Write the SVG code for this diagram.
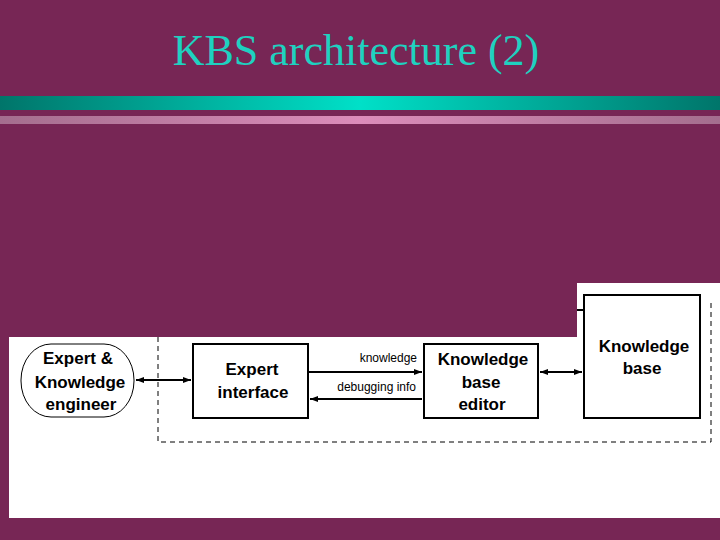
<svg xmlns="http://www.w3.org/2000/svg" width="720" height="540" viewBox="0 0 720 540">
<defs>
<linearGradient id="teal" x1="0" x2="1"><stop offset="0" stop-color="#00756a"/><stop offset="0.5" stop-color="#00e0c8"/><stop offset="1" stop-color="#00756a"/></linearGradient>
<linearGradient id="pink" x1="0" x2="1"><stop offset="0" stop-color="#a46e8e"/><stop offset="0.5" stop-color="#dc8cba"/><stop offset="1" stop-color="#a46e8e"/></linearGradient>
<marker id="ah" markerWidth="8" markerHeight="6" refX="8" refY="3" orient="auto-start-reverse" markerUnits="userSpaceOnUse"><path d="M0,0 L8,3 L0,6 Z" fill="#000"/></marker>
</defs>
<style>
.box{fill:#fff;stroke:#000;stroke-width:2}
.t{font-family:"Liberation Sans",Arial,sans-serif;font-size:17px;font-weight:bold;text-anchor:middle;fill:#000}
.s{font-family:"Liberation Sans",Arial,sans-serif;font-size:12px;text-anchor:end;fill:#000}
.c{stroke:#000;stroke-width:2;fill:none}
</style>
<rect width="720" height="540" fill="#772655"/>
<text x="356" y="65" font-family="Liberation Serif,Times New Roman,serif" font-size="44" fill="#1fd1c0" text-anchor="middle">KBS architecture (2)</text>
<rect x="0" y="96" width="720" height="14" fill="url(#teal)"/>
<rect x="0" y="116" width="720" height="8" fill="url(#pink)"/>
<rect x="9" y="337" width="711" height="181" fill="#fff"/>
<rect x="577" y="283" width="143" height="55" fill="#fff"/>
<path d="M158,337 V442 H711 V300" fill="none" stroke="#000" stroke-width="1" stroke-dasharray="5,4"/>
<g id="expert"><rect x="21" y="344" width="113" height="73" rx="30" ry="36" fill="#fff" stroke="#000" stroke-width="1"/>
<text class="t" x="78" y="364">Expert &amp;</text><text class="t" x="80" y="388">Knowledge</text><text class="t" x="81" y="410">engineer</text></g>
<g id="interface"><rect class="box" x="193" y="344" width="115" height="74"/>
<text class="t" x="252" y="375">Expert</text><text class="t" x="253" y="398">interface</text></g>
<g id="editor"><rect class="box" x="424" y="344" width="114" height="74"/>
<text class="t" x="483" y="365">Knowledge</text><text class="t" x="481" y="388">base</text><text class="t" x="482" y="410">editor</text></g>
<g id="kb"><rect class="box" x="584" y="295" width="116" height="123"/>
<text class="t" x="644" y="352">Knowledge</text><text class="t" x="642" y="374">base</text></g>
<g id="connectors">
<line class="c" x1="136" y1="380" x2="191" y2="380" marker-start="url(#ah)" marker-end="url(#ah)"/>
<line class="c" x1="308" y1="372" x2="422" y2="372" stroke-width="1" marker-end="url(#ah)"/>
<line class="c" x1="422" y1="399" x2="310" y2="399" marker-end="url(#ah)"/>
<line class="c" x1="540" y1="372" x2="582" y2="372" marker-start="url(#ah)" marker-end="url(#ah)"/>
<line class="c" x1="577" y1="310" x2="583" y2="310" stroke-width="1"/>
<text class="s" x="417" y="362">knowledge</text>
<text class="s" x="416" y="391">debugging info</text>
</g>
</svg>
